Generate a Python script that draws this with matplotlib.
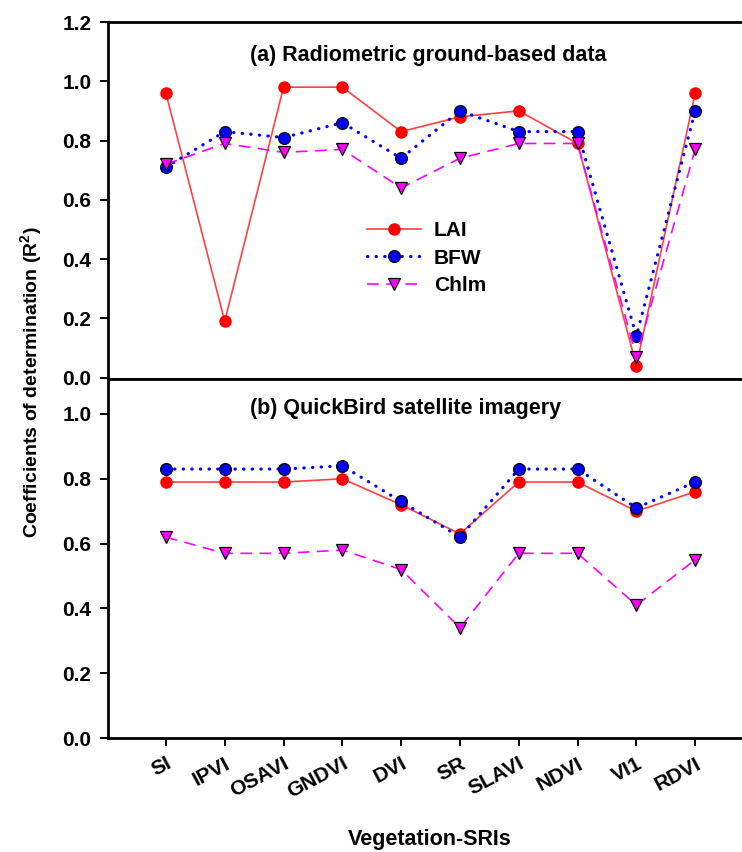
import numpy as np
import matplotlib.pyplot as plt

# values
indices = ['SI', 'IPVI', 'OSAVI', 'GNDVI', 'DVI', 'SR', 'SLAVI', 'NDVI', 'VI1', 'RDVI']

lai_ground = [0.96, 0.19, 0.98, 0.98, 0.83, 0.88, 0.90, 0.79, 0.04, 0.96]
bfw_ground = [0.71, 0.83, 0.81, 0.86, 0.74, 0.90, 0.83, 0.83, 0.14, 0.90]
chl_ground = [0.72, 0.79, 0.76, 0.77, 0.64, 0.74, 0.79, 0.79, 0.07, 0.77]

lai_qb = [0.79, 0.79, 0.79, 0.80, 0.72, 0.63, 0.79, 0.79, 0.70, 0.76]
bfw_qb = [0.83, 0.83, 0.83, 0.84, 0.73, 0.62, 0.83, 0.83, 0.71, 0.79]
chl_qb = [0.62, 0.57, 0.57, 0.58, 0.52, 0.34, 0.57, 0.57, 0.41, 0.55]

plt.rcParams['font.family'] = ['Liberation Sans', 'DejaVu Sans']
plt.rcParams['mathtext.fontset'] = 'custom'
plt.rcParams['mathtext.bf'] = 'Liberation Sans:bold'

x = np.arange(len(indices))

W, H = 742, 852
fig = plt.figure(figsize=(W / 100, H / 100), dpi=100)

# axes in pixel terms, right edge runs off the picture like the reference
x0, x1 = 108, 754
ax1 = fig.add_axes([x0 / W, (H - 379) / H, (x1 - x0) / W, (379 - 22) / H])
ax2 = fig.add_axes([x0 / W, (H - 738) / H, (x1 - x0) / W, (738 - 379) / H])


def draw(ax, lai, bfw, chl):
    ax.plot(x, lai, color='#ff4040', lw=1.2, marker='o', ms=8,
            mfc='#ff0000', mec='#ff0000', label='LAI', zorder=3)
    ax.plot(x, bfw, color='#0000ff', lw=2.3, ls=(0, (0.1, 2.6)), dash_capstyle='round',
            marker='o', ms=8.5, mfc='#0000ff', mec='black', mew=0.9, label='BFW', zorder=4)
    ax.plot(x, chl, color='#ff00ff', lw=1.2, ls=(0, (7, 4.5)), marker='v', ms=9,
            mfc='#ff00ff', mec='black', mew=0.9, label='Chlm', zorder=5)
    ax.set_xlim(-0.985, 10.0)
    for s in ['top', 'left', 'bottom', 'right']:
        ax.spines[s].set_linewidth(2.0)
    ax.tick_params(axis='y', direction='out', length=6, width=1.4, pad=6,
                   labelsize=15)
    for lbl in ax.get_yticklabels():
        lbl.set_fontweight('bold')


draw(ax1, lai_ground, bfw_ground, chl_ground)
ax1.set_ylim(-0.005, 1.2)
ax1.set_xticks([])
ax1.set_yticks(np.arange(0, 1.21, 0.2))
ax1.set_yticklabels(['%.1f' % v for v in np.arange(0, 1.21, 0.2)],
                    fontweight='bold', fontsize=15)
ax1.text(0.495, 0.905, '(a) Radiometric ground-based data', transform=ax1.transAxes,
         ha='center', va='center', fontweight='bold', fontsize=15.5)
ax1.legend(loc='upper left', bbox_to_anchor=(0.385, 0.472), frameon=False,
           borderpad=0, handlelength=2.6, handletextpad=0.6, labelspacing=0.42,
           prop={'weight': 'bold', 'size': 15})

draw(ax2, lai_qb, bfw_qb, chl_qb)
ax2.set_ylim(0, 1.108)
ax2.set_yticks(np.arange(0, 1.01, 0.2))
ax2.set_yticklabels(['%.1f' % v for v in np.arange(0, 1.01, 0.2)],
                    fontweight='bold', fontsize=15)
ax2.set_xticks(x)
ax2.set_xticklabels(indices, rotation=28, ha='right', va='top', rotation_mode='anchor',
                    fontweight='bold', fontsize=15)
ax2.tick_params(axis='x', direction='out', length=5.5, width=1.4, pad=6)
ax2.text(0.46, 0.919, '(b) QuickBird satellite imagery', transform=ax2.transAxes,
         ha='center', va='center', fontweight='bold', fontsize=15.5)

fig.text(32 / W, 1 - 382 / H, r'Coefficients of determination (R$^\mathbf{2}$)',
         rotation=90, ha='center', va='center', fontweight='bold', fontsize=14)
fig.text(430 / W, 1 - 840 / H, 'Vegetation-SRIs', ha='center', va='center',
         fontweight='bold', fontsize=15.5)

fig.savefig('out.png', dpi=100)
